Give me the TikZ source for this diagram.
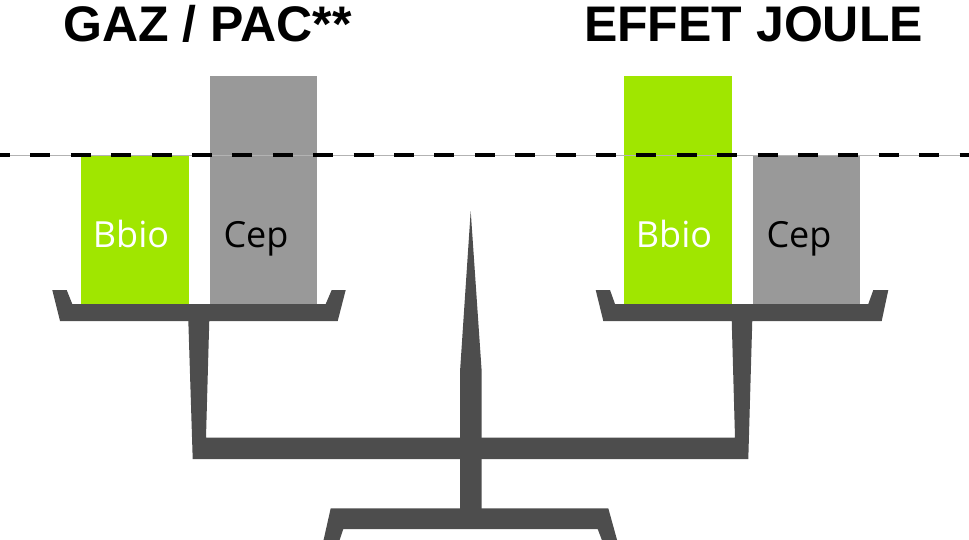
\documentclass[tikz,border=0pt]{standalone}
\usepackage{fontspec}
\setmainfont{Liberation Sans}
\newfontfamily\barfont{Open Sans}
\definecolor{traygray}{HTML}{4D4D4D}
\definecolor{bargreen}{HTML}{A0E600}
\definecolor{bargray}{HTML}{999999}
\definecolor{thinline}{HTML}{B3B3B3}
\tikzset{
  greenbar/.style={fill=bargreen, draw=none},
  graybar/.style={fill=bargray, draw=none},
  metal/.style={fill=traygray, draw=none},
  titletext/.style={anchor=base, inner sep=0pt, font=\fontsize{50}{60}\selectfont\bfseries},
  whitelabel/.style={anchor=base, inner sep=0pt, text=white, font=\barfont\fontsize{36}{43}\selectfont},
  blacklabel/.style={anchor=base, inner sep=0pt, text=black, font=\barfont\fontsize{36}{43}\selectfont},
}
\begin{document}
\begin{tikzpicture}[x=1pt, y=-1pt]
\useasboundingbox (0,0) rectangle (969,539);
\clip (0,0) rectangle (969,539);
% bars
\path[greenbar] (81,155) rectangle (189,304);
\path[graybar] (209.5,76) rectangle (316.5,304);
\path[greenbar] (624,76) rectangle (732,304);
\path[graybar] (752.5,155) rectangle (860,304);
% trays
\path[metal] (52.3,290) -- (66.7,290) -- (72.3,304) -- (325.7,304) -- (331.7,290) -- (345.7,290) -- (337.7,321) -- (60,321) -- cycle;
\path[metal] (595.7,290) -- (610,290) -- (615,304) -- (868.3,304) -- (873.3,290) -- (888.3,290) -- (881.7,321) -- (603.3,321) -- cycle;
% beam with stems
\path[metal] (188.3,320) -- (209.3,320) -- (206,437.7) -- (735,437.7) -- (731.7,320) -- (752.3,320) -- (748.3,459) -- (192.7,459) -- cycle;
% needle
\path[metal] (470.7,211) -- (481.7,371.7) -- (481.7,510) -- (460,510) -- (460,371.7) -- cycle;
% base
\path[metal] (330.7,508.3) -- (608.3,508.3) -- (619,547) -- (604.5,547) -- (597.7,529) -- (343.3,529) -- (337.3,547) -- (322,547) -- cycle;
% reference line
\draw[thinline, line width=1pt] (0,155) -- (969,155);
\draw[black, line width=4pt, dash pattern=on 20pt off 20.4pt, dash phase=10pt] (0,155) -- (969,155);
% labels
\node[titletext] (t1) at (207.5,41.7) {GAZ / PAC**};
\node[titletext] (t2) at (753.5,41.7) {EFFET JOULE};
\node[whitelabel] (b1) at (131,247.5) {Bbio};
\node[blacklabel] (c1) at (256,247.5) {Cep};
\node[whitelabel] (b2) at (674,247.5) {Bbio};
\node[blacklabel] (c2) at (799,247.5) {Cep};
\end{tikzpicture}
\end{document}
